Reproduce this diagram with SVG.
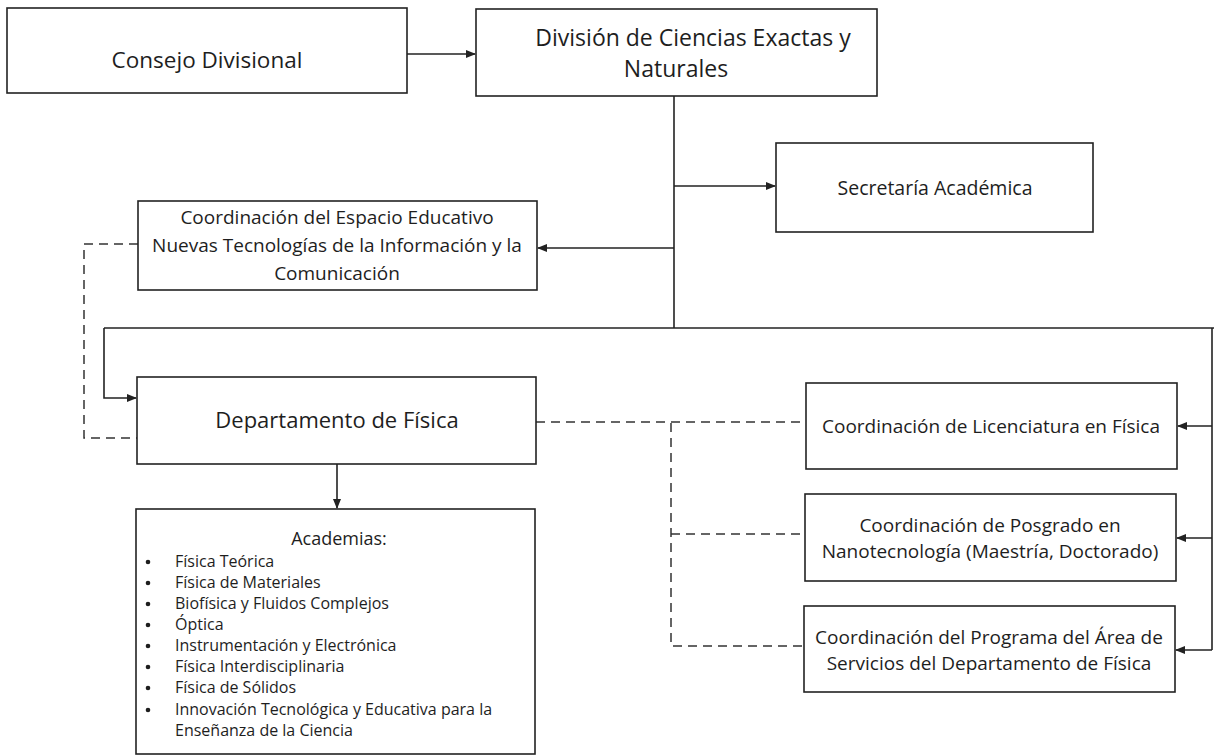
<svg xmlns="http://www.w3.org/2000/svg" width="1214" height="755" viewBox="0 0 1214 755">
<style>
.box{fill:#fff;stroke:#222;stroke-width:1.6}
.t{font-family:"Open Sans","Liberation Sans",sans-serif;fill:#1e1e1e;text-anchor:middle}
.l{font-family:"Open Sans","Liberation Sans",sans-serif;fill:#1e1e1e;font-size:16px}
.c{fill:none;stroke:#222;stroke-width:1.6}
.d{fill:none;stroke:#333;stroke-width:1.5;stroke-dasharray:9 6}
</style>
<defs>
<marker id="ah" markerWidth="10" markerHeight="8" refX="9" refY="4" orient="auto" markerUnits="userSpaceOnUse">
<path d="M0,0 L10,4 L0,8 Z" fill="#222"/>
</marker>
</defs>
<rect width="1214" height="755" fill="#fff"/>
<g id="connectors">
<path class="c" d="M407,54 H475" marker-end="url(#ah)"/>
<path class="c" d="M674,96 V328"/>
<path class="c" d="M674,186 H775" marker-end="url(#ah)"/>
<path class="c" d="M674,248 H538" marker-end="url(#ah)"/>
<path class="c" d="M104,328 H1214"/>
<path class="c" d="M104,328 V398 H136" marker-end="url(#ah)"/>
<path class="c" d="M1212,328 V650"/>
<path class="c" d="M1212,426 H1178" marker-end="url(#ah)"/>
<path class="c" d="M1212,538 H1177" marker-end="url(#ah)"/>
<path class="c" d="M1212,650 H1176" marker-end="url(#ah)"/>
<path class="c" d="M337,464 V508" marker-end="url(#ah)"/>
<path class="d" d="M138,244 H84 V438 H137"/>
<path class="d" d="M536,422 H806"/>
<path class="d" d="M671,423 V646 H804"/>
<path class="d" d="M671,534 H804"/>
</g>
<g id="consejo">
<rect class="box" x="7" y="8" width="400" height="85"/>
<text class="t" x="207" y="68" font-size="22.5">Consejo Divisional</text>
</g>
<g id="division">
<rect class="box" x="476" y="9" width="401" height="87"/>
<text class="t" x="693" y="46" font-size="23">División de Ciencias Exactas y</text>
<text class="t" x="676" y="77" font-size="23">Naturales</text>
</g>
<g id="secretaria">
<rect class="box" x="776" y="143" width="317" height="89"/>
<text class="t" x="935" y="195" font-size="19.5">Secretaría Académica</text>
</g>
<g id="espacio">
<rect class="box" x="138" y="201" width="399" height="89"/>
<text class="t" x="337" y="224" font-size="19">Coordinación del Espacio Educativo</text>
<text class="t" x="337" y="252" font-size="19">Nuevas Tecnologías de la Información y la</text>
<text class="t" x="337" y="280" font-size="19">Comunicación</text>
</g>
<g id="departamento">
<rect class="box" x="137" y="377" width="399" height="87"/>
<text class="t" x="337" y="428" font-size="22">Departamento de Física</text>
</g>
<g id="academias">
<rect class="box" x="136" y="509" width="399" height="245"/>
<text class="t" x="339" y="545" font-size="18">Academias:</text>
<g class="l">
<circle cx="148" cy="562" r="2.3" fill="#1e1e1e"/><text x="175" y="567">Física Teórica</text>
<circle cx="148" cy="583" r="2.3" fill="#1e1e1e"/><text x="175" y="588">Física de Materiales</text>
<circle cx="148" cy="604" r="2.3" fill="#1e1e1e"/><text x="175" y="609">Biofísica y Fluidos Complejos</text>
<circle cx="148" cy="625" r="2.3" fill="#1e1e1e"/><text x="175" y="630">Óptica</text>
<circle cx="148" cy="646" r="2.3" fill="#1e1e1e"/><text x="175" y="651">Instrumentación y Electrónica</text>
<circle cx="148" cy="667" r="2.3" fill="#1e1e1e"/><text x="175" y="672">Física Interdisciplinaria</text>
<circle cx="148" cy="688" r="2.3" fill="#1e1e1e"/><text x="175" y="693">Física de Sólidos</text>
<circle cx="148" cy="710" r="2.3" fill="#1e1e1e"/><text x="175" y="715">Innovación Tecnológica y Educativa para la</text>
<text x="175" y="736">Enseñanza de la Ciencia</text>
</g>
</g>
<g id="licenciatura">
<rect class="box" x="806" y="383" width="371" height="86"/>
<text class="t" x="991" y="433" font-size="19">Coordinación de Licenciatura en Física</text>
</g>
<g id="posgrado">
<rect class="box" x="805" y="494" width="371" height="87"/>
<text class="t" x="990" y="532" font-size="19">Coordinación de Posgrado en</text>
<text class="t" x="990" y="558" font-size="19">Nanotecnología (Maestría, Doctorado)</text>
</g>
<g id="servicios">
<rect class="box" x="804" y="606" width="371" height="86"/>
<text class="t" x="989" y="644" font-size="19">Coordinación del Programa del Área de</text>
<text class="t" x="989" y="670" font-size="19">Servicios del Departamento de Física</text>
</g>
</svg>
